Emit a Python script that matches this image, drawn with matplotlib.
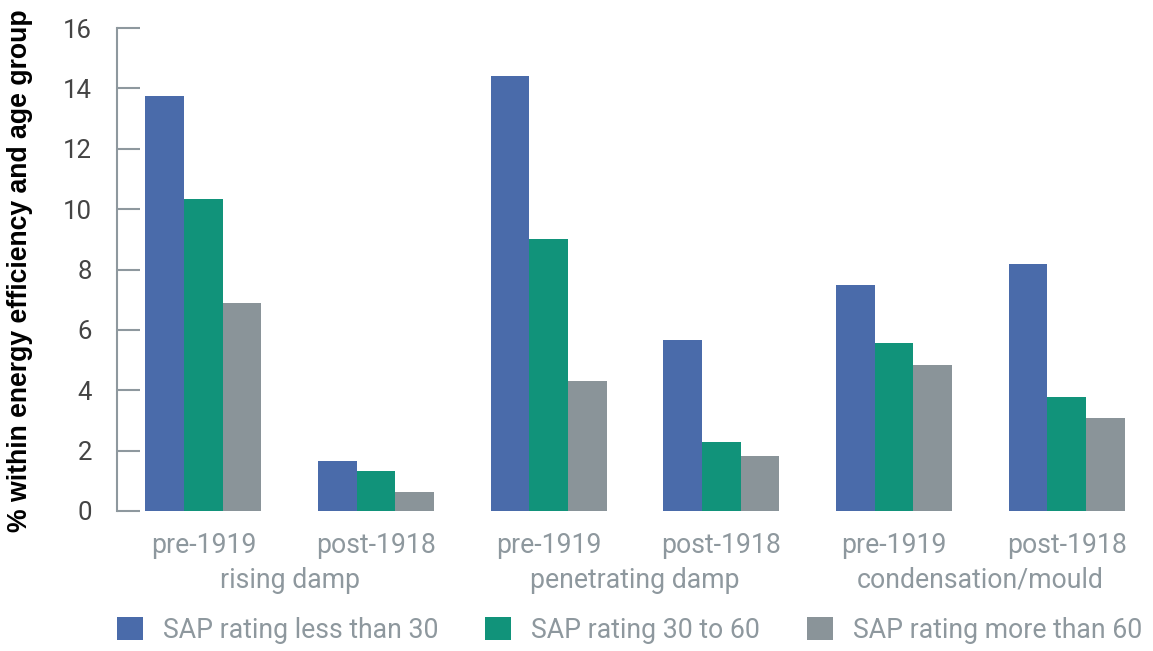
import numpy as np
import matplotlib.pyplot as plt

ages = ['pre-1919', 'post-1918', 'pre-1919', 'post-1918', 'pre-1919', 'post-1918']
problems = ['rising damp', 'penetrating damp', 'condensation/mould']
series = ['SAP rating less than 30', 'SAP rating 30 to 60', 'SAP rating more than 60']
sap_low = [13.75, 1.66, 14.4, 5.66, 7.49, 8.18]
sap_mid = [10.33, 1.32, 9.0, 2.29, 5.56, 3.78]
sap_high = [6.89, 0.63, 4.3, 1.82, 4.84, 3.08]
colors = ['#4A6BAA', '#11937A', '#8A9499']

gray = '#8E989E'
plt.rcParams['font.family'] = ['Roboto', 'DejaVu Sans']

fig = plt.figure(figsize=(11.53, 6.51), dpi=100)
ax = fig.add_axes([117 / 1153, 1 - 511 / 651, 1 - 117 / 1153, (511 - 28) / 651])

x = np.arange(len(ages))
w = 0.224
bars = []
for i, vals in enumerate([sap_low, sap_mid, sap_high]):
    b = ax.bar(x + (i - 1) * w, vals, width=w, color=colors[i], label=series[i])
    bars.append(b)

ax.set_xlim(-0.5, 5.5)
ax.set_ylim(0, 16)
ax.set_yticks(np.arange(0, 17, 2))
for s in ['top', 'right', 'bottom']:
    ax.spines[s].set_visible(False)
ax.spines['left'].set_color(gray)
ax.spines['left'].set_linewidth(1.5)
ax.tick_params(axis='y', direction='in', length=16.5, width=1.5, color=gray,
               pad=18, labelsize=18.5, labelcolor='#444444')

ax.set_xticks(x)
ax.set_xticklabels(ages, fontsize=19.2, color=gray)
ax.tick_params(axis='x', length=0, pad=15)

for k, p in enumerate(problems):
    ax.text(2 * k + 0.5, -0.143, p, transform=ax.get_xaxis_transform(),
            ha='center', va='center', fontsize=19.2, color=gray)

ax.set_ylabel('% within energy efficiency and age group', fontsize=19.2,
              fontweight='bold', color='black', family=['Liberation Sans', 'DejaVu Sans'])
ax.yaxis.set_label_coords(-0.081, 0.497)

fig.legend(handles=bars, labels=series, loc='center left',
           bbox_to_anchor=(93 / 1153, 1 - 630 / 651), ncol=3, frameon=False,
           handlelength=0.975, handleheight=0.975, handletextpad=0.75, columnspacing=1.76,
           prop={'size': 19.2}, labelcolor=gray)

fig.savefig('out.png', dpi=100)
